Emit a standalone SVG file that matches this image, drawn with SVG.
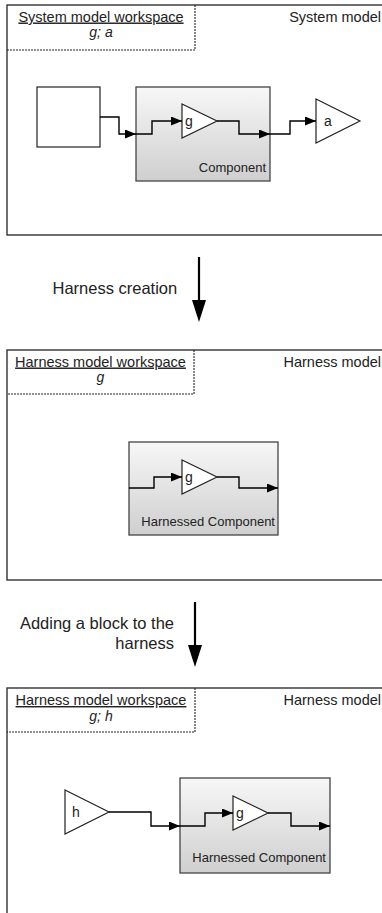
<svg xmlns="http://www.w3.org/2000/svg" width="382" height="913" viewBox="0 0 382 913">
<defs>
<linearGradient id="grad" x1="0" y1="0" x2="0" y2="1">
<stop offset="0" stop-color="#f7f7f7"/>
<stop offset="1" stop-color="#cfcfcf"/>
</linearGradient>
<marker id="ah" markerUnits="userSpaceOnUse" markerWidth="11" markerHeight="9" refX="11" refY="4.5" orient="auto">
<path d="M0,0 L11,4.5 L0,9 z" fill="#000"/>
</marker>
<style>
.panel{fill:#fff;stroke:#333;stroke-width:1.4}
.ws{fill:none;stroke:#222;stroke-width:1.1;stroke-dasharray:2,1}
.t{font-family:"Liberation Sans",Arial,sans-serif;fill:#222}
.title{font-size:14.5px;text-decoration:underline}
.vars{font-size:14px;font-style:italic}
.lbl{font-size:13px}
.big{font-size:16.5px}
.comp{fill:url(#grad);stroke:#444;stroke-width:1.3}
.blk{fill:#fff;stroke:#222;stroke-width:1.2}
.sig{fill:none;stroke:#000;stroke-width:1.4;marker-end:url(#ah)}
.step{stroke:#000;stroke-width:2.2}
</style>
</defs>

<g id="panel-system">
<rect class="panel" x="7" y="5" width="400" height="230"/>
<path class="ws" d="M195,5 V50 H7"/>
<text class="t title" x="101" y="21.5" text-anchor="middle">System model workspace</text>
<text class="t vars" x="101" y="37" text-anchor="middle">g; a</text>
<text class="t title" x="381" y="21.5" text-anchor="end" style="text-decoration:none">System model</text>
</g>
<g id="source-block"><rect class="blk" x="37" y="87" width="63" height="60"/></g>
<g id="component">
<rect class="comp" x="136" y="87" width="134" height="94"/>
<text class="t lbl" x="266" y="171.5" text-anchor="end">Component</text>
</g>
<g id="gain-g-1">
<polygon class="blk" points="182,104 217,121 182,138"/>
<text class="t lbl" x="185" y="126" style="font-size:14px">g</text>
</g>
<g id="gain-a">
<polygon class="blk" points="316,99 360,121 316,143"/>
<text class="t lbl" x="324" y="126" style="font-size:14px">a</text>
</g>

<g id="step-1">
<line class="step" x1="199" y1="257" x2="199" y2="302"/>
<polygon points="192,300 206,300 199,322" fill="#000"/>
<text class="t big" x="52.5" y="294">Harness creation</text>
</g>

<g id="panel-harness">
<rect class="panel" x="7" y="350" width="400" height="230"/>
<path class="ws" d="M194,350 V394 H7"/>
<text class="t title" x="100.5" y="366.5" text-anchor="middle">Harness model workspace</text>
<text class="t vars" x="100.5" y="382" text-anchor="middle">g</text>
<text class="t title" x="381" y="366.5" text-anchor="end" style="text-decoration:none">Harness model</text>
</g>
<g id="harnessed-component-1">
<rect class="comp" x="129" y="442" width="149" height="93"/>
<text class="t lbl" x="275" y="526" text-anchor="end">Harnessed Component</text>
</g>
<g id="gain-g-2">
<polygon class="blk" points="182,460 217,477 182,494"/>
<text class="t lbl" x="185" y="482" style="font-size:14px">g</text>
</g>

<g id="step-2">
<line class="step" x1="195" y1="602" x2="195" y2="647"/>
<polygon points="188,645 202,645 195,667" fill="#000"/>
<text class="t big" x="174" y="628.5" text-anchor="end">Adding a block to the</text>
<text class="t big" x="174" y="648.5" text-anchor="end">harness</text>
</g>

<g id="panel-harness-2">
<rect class="panel" x="7" y="688" width="400" height="260"/>
<path class="ws" d="M195,688 V732 H7"/>
<text class="t title" x="101" y="705" text-anchor="middle">Harness model workspace</text>
<text class="t vars" x="101" y="721" text-anchor="middle">g; h</text>
<text class="t title" x="381" y="705" text-anchor="end" style="text-decoration:none">Harness model</text>
</g>
<g id="gain-h">
<polygon class="blk" points="65,790 109,812 65,834"/>
<text class="t lbl" x="72" y="817" style="font-size:14px">h</text>
</g>
<g id="harnessed-component-2">
<rect class="comp" x="180" y="778" width="150" height="95"/>
<text class="t lbl" x="326" y="862" text-anchor="end">Harnessed Component</text>
</g>
<g id="gain-g-3">
<polygon class="blk" points="233,796 268,813 233,830"/>
<text class="t lbl" x="236" y="818" style="font-size:14px">g</text>
</g>

<g id="connectors">
<path class="sig" d="M100,117 H119 V134 H136"/>
<path class="sig" d="M136,134 H152 V121 H182"/>
<path class="sig" d="M217,121 H239 V134 H270"/>
<path class="sig" d="M270,134 H290 V121 H316"/>
<path class="sig" d="M129,488 H154 V477 H182"/>
<path class="sig" d="M217,477 H239 V488 H278"/>
<path class="sig" d="M109,812 H151 V826 H180"/>
<path class="sig" d="M180,826 H205 V813 H233"/>
<path class="sig" d="M268,813 H291 V826 H330"/>
</g>
</svg>
